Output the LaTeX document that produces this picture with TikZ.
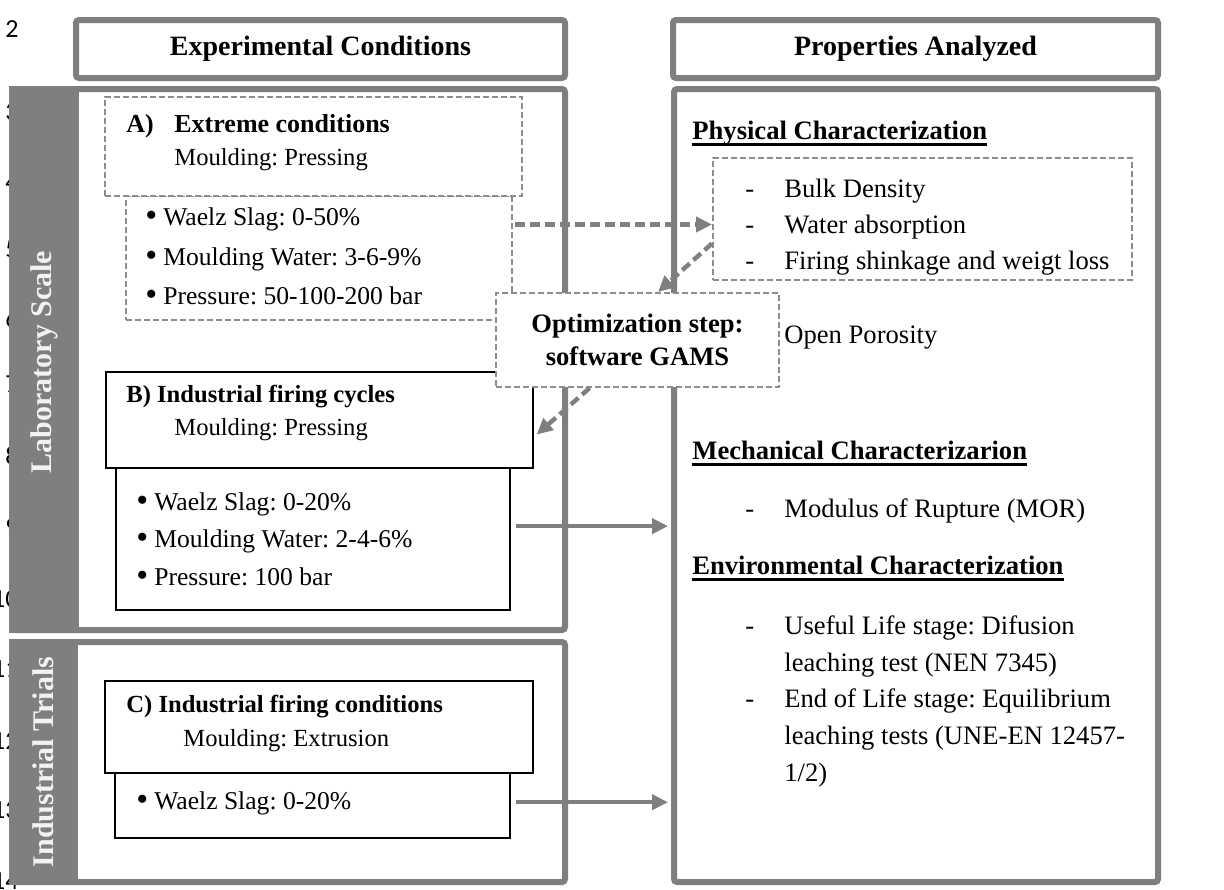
\documentclass[tikz,border=0pt]{standalone}
\usepackage{fontspec}
\setmainfont{Liberation Serif}
\newfontfamily\numfont{Carlito}
\usetikzlibrary{arrows.meta,calc,fit}
\definecolor{pgrey}{HTML}{7F7F7F}
\definecolor{dgrey}{HTML}{8C8C8C}
\definecolor{sidetxt}{HTML}{F2F2F2}
\frenchspacing
% heading with a thick underline
\newcommand{\hul}[1]{\setbox0\hbox{#1}\rlap{\rule[-3.4pt]{\wd0}{1.3pt}}\box0}
% list bullet
\newcommand{\bl}{\raisebox{-0.8pt}{\fontsize{17}{17}\selectfont\textbullet}\hspace{3pt}}
\begin{document}
\begin{tikzpicture}[x=0.5pt,y=-0.5pt,
  panel/.style={draw=pgrey, line width=3pt, rounded corners=1.5pt, inner sep=0pt},
  sidebar/.style={fill=pgrey},
  dbox/.style={draw=dgrey, line width=1pt, dash pattern=on 3pt off 1.5pt, fill=white, inner sep=0pt},
  sbox/.style={draw=black, line width=0.6pt, fill=white, inner sep=0pt},
  link/.style={draw=pgrey, line width=2.2pt, -{Triangle[length=8pt,width=7.5pt]}},
  dlink/.style={link, dash pattern=on 5pt off 2.5pt},
  txt/.style={anchor=base west, inner sep=0pt},
  lnum/.style={anchor=base east, inner sep=0pt, font=\numfont\fontsize{13}{15}\selectfont},
  head/.style={inner sep=0pt, font=\fontsize{14}{17}\selectfont\bfseries},
  side/.style={inner sep=0pt, rotate=90, text=sidetxt, font=\fontsize{15}{18}\selectfont\bfseries},
  ttl/.style={txt, font=\fontsize{13}{16}\selectfont\bfseries},
  ttlb/.style={txt, font=\fontsize{12.3}{15}\selectfont\bfseries},
  sub/.style={txt, font=\fontsize{12.3}{14}\selectfont},
  bul/.style={txt, font=\fontsize{12.8}{15}\selectfont},
  rtxt/.style={txt, font=\fontsize{13.3}{16}\selectfont},
  rhead/.style={txt, font=\fontsize{13.3}{16}\selectfont\bfseries},
]
\useasboundingbox[fill=white] (0,0) rectangle (1224,889);

% margin line numbers
\foreach \n/\y in {2/37,3/120,4/190,5/257,6/327,7/392,8/464,9/535,10/607,11/677,12/749,13/818,14/889}
  {\node[lnum] (ln\n) at (19,\y) {\n};}

% column headers
\node[panel, fit={(76,20) (565,78)}] (hL) {};
\node[head] (hLt) at (hL.center) {Experimental Conditions};
\node[panel, fit={(673,20) (1158,78)}] (hR) {};
\node[head] (hRt) at (hR.center) {Properties Analyzed};

% laboratory scale panel
\node[panel, fit={(12,89) (565,630)}] (lab) {};
\fill[sidebar] (9,86) rectangle (79,633);
\node[side] (labt) at (44,362) {Laboratory Scale};

% industrial trials panel
\node[panel, fit={(12,642) (565,882)}] (ind) {};
\fill[sidebar] (9,639) rectangle (78,885);
\node[side] (indt) at (43,762) {Industrial Trials};

% properties panel
\node[panel, fit={(674,89) (1158,882)}] (rp) {};

% A) extreme conditions
\node[dbox, fit={(126,196) (512,320)}] (aL) {};
\node[dbox, fit={(105,97) (522,196)}] (aT) {};
\node[ttl] (aTa) at (126,132) {A)};
\node[ttl] (aTb) at (174,132) {Extreme conditions};
\node[sub] (aTc) at (174,165) {Moulding: Pressing};
\node[bul] (aL1) at (145,225) {\bl Waelz Slag: 0-50\%};
\node[bul] (aL2) at (145,265) {\bl Moulding Water: 3-6-9\%};
\node[bul] (aL3) at (145,304) {\bl Pressure: 50-100-200 bar};

% B) industrial firing cycles
\node[sbox, fit={(116,468) (510,610)}] (bL) {};
\node[sbox, fit={(106,372) (533,468)}] (bT) {};
\node[ttlb] (bTa) at (126,402) {B) Industrial firing cycles};
\node[sub] (bTc) at (174,435) {Moulding: Pressing};
\node[bul] (bL1) at (136,510) {\bl Waelz Slag: 0-20\%};
\node[bul] (bL2) at (136,547) {\bl Moulding Water: 2-4-6\%};
\node[bul] (bL3) at (136,585) {\bl Pressure: 100 bar};

% C) industrial firing conditions
\node[sbox, fit={(115,773) (510,838)}] (cL) {};
\node[sbox, fit={(105,681) (533,773)}] (cT) {};
\node[ttlb] (cTa) at (126,712) {C) Industrial firing conditions};
\node[sub] (cTc) at (183,746) {Moulding: Extrusion};
\node[bul] (cL1) at (136,809) {\bl Waelz Slag: 0-20\%};

% properties analysed
\node[rhead] (ph) at (692,139) {\hul{Physical Characterization}};
\node[dbox, fit={(713,158) (1132,280)}] (phys) {};
\foreach \i/\y/\t in {1/197/Bulk Density,2/233/Water absorption,3/269/Firing shinkage and weigt loss}
  {\node[rtxt] (pd\i) at (745,\y) {-}; \node[rtxt] (pt\i) at (784,\y) {\t};}
\node[rtxt] (pd4) at (745,343) {-};
\node[rtxt] (pt4) at (784,343) {Open Porosity};
\node[rhead] (mh) at (692,459) {\hul{Mechanical Characterizarion}};
\node[rtxt] (md1) at (745,517) {-};
\node[rtxt] (mt1) at (784,517) {Modulus of Rupture (MOR)};
\node[rhead] (eh) at (692,574) {\hul{Environmental Characterization}};
\node[rtxt] (ed1) at (745,634) {-};
\node[rtxt] (et1) at (784,634) {Useful Life stage: Difusion};
\node[rtxt] (et2) at (784,671) {leaching test (NEN 7345)};
\node[rtxt] (ed3) at (745,707) {-};
\node[rtxt] (et3) at (784,707) {End of Life stage: Equilibrium};
\node[rtxt] (et4) at (784,744) {leaching tests (UNE-EN 12457-};
\node[rtxt] (et5) at (784,781) {1/2)};

% connectors
\coordinate (as) at ($(aL.north east)!0.234!(aL.south east)$);
\draw[dlink, shorten <=1pt] (as) -- (as -| phys.west);
\coordinate (bs) at ($(bL.north east)!0.41!(bL.south east)$);
\draw[link, shorten <=2.5pt, shorten >=1.5pt] (bs) -- (bs -| rp.west);
\coordinate (cs) at ($(cL.north east)!0.45!(cL.south east)$);
\draw[link, shorten <=2.5pt, shorten >=1.5pt] (cs) -- (cs -| rp.west);

% optimisation step
\node[dbox, fit={(496,293) (779,387)}] (opt) {};
\node[inner sep=0pt, align=center, font=\fontsize{13.3}{16.5}\selectfont\bfseries] (optt) at (opt.center) {Optimization step:\\software GAMS};
\draw[dlink] ($(phys.north west)!0.697!(phys.south west)$) -- ($(opt.north west)!0.572!(opt.north east)$);
\draw[dlink, shorten >=2pt] ($(opt.south west)!0.332!(opt.south east)$) -- ($(bT.north east)!0.677!(bT.south east)$);
\end{tikzpicture}
\end{document}
